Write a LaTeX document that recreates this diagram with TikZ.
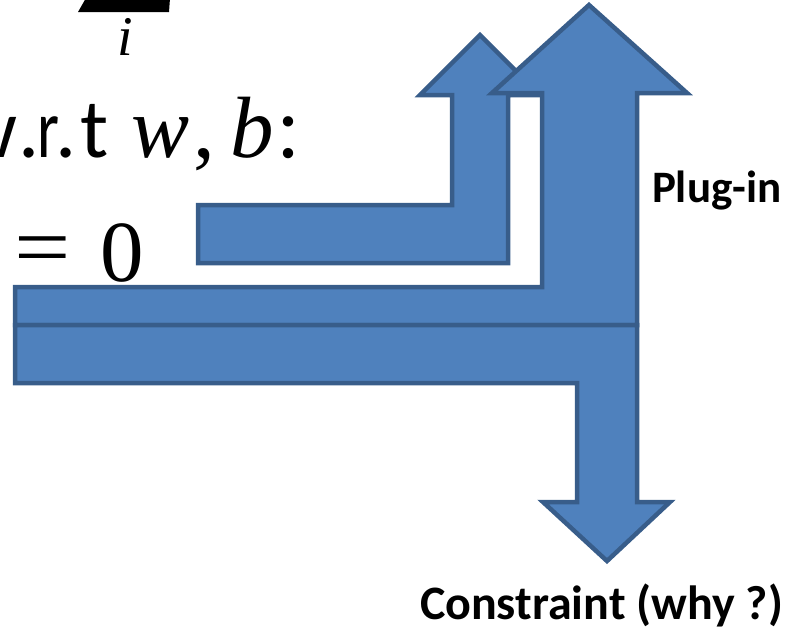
\documentclass[tikz,border=0pt]{standalone}
\usepackage{fontspec}
\setmainfont{Carlito}
\newfontfamily\serifm{Liberation Serif}
\definecolor{arrowfill}{HTML}{4F81BD}
\definecolor{arrowline}{HTML}{385D8A}
\tikzset{
  bigarrow/.style={fill=arrowfill, draw=arrowline, line width=4.5pt, line join=miter},
  lbl/.style={anchor=base west, inner sep=0pt, outer sep=0pt},
}
\begin{document}
\begin{tikzpicture}[x=1pt,y=-1pt]
\useasboundingbox (0,0) rectangle (788,630);
\clip (0,0) rectangle (788,630);
% fragment of the sum sign
\fill[black] (78,12) -- (169,12) -- (170,-2) -- (86,-2) -- cycle;
\node[lbl] (idx) at (117,55) {\serifm\itshape\fontsize{56}{60}\selectfont i};
% w.r.t w, b:
\node[lbl] (wrt) at (-42,157) {\fontsize{84}{90}\selectfont w\kern0pt.\kern-1.4pt\scalebox{0.75}[1]{r}\kern-3.9pt.\kern3.9pt t};
\node[lbl] (wb) at (131,157) {\serifm\fontsize{87}{90}\selectfont\textit{w}\kern4pt,\hspace{16pt}\textit{b}\hspace{2pt}:};
% = 0
\node[lbl] (eqz) at (14,281) {\serifm\fontsize{87}{90}\selectfont\raisebox{5pt}{\scalebox{1.15}[1]{=}}\hspace{30pt}0};
% small bent arrow
\draw[bigarrow] (198,205) -- (452,205) -- (452,95) -- (420,95) -- (480,35) -- (540,95) -- (508,95) -- (508,263) -- (198,263) -- cycle;
% big bent arrow up
\draw[bigarrow] (15,287) -- (542,287) -- (542,93) -- (492,93) -- (589,5) -- (687,93) -- (637,93) -- (637,325) -- (15,325) -- cycle;
% bent arrow down
\draw[bigarrow] (15,325) -- (637,325) -- (637,502) -- (670,502) -- (607,561) -- (543,502) -- (577,502) -- (577,383) -- (15,383) -- cycle;
% labels
\node[lbl] (plug) at (652,202) {\bfseries\fontsize{45}{48}\selectfont Plug-in};
\node[lbl] (cons) at (420,619) {\bfseries\fontsize{48}{50}\selectfont Constraint (why ?)};
\end{tikzpicture}
\end{document}
